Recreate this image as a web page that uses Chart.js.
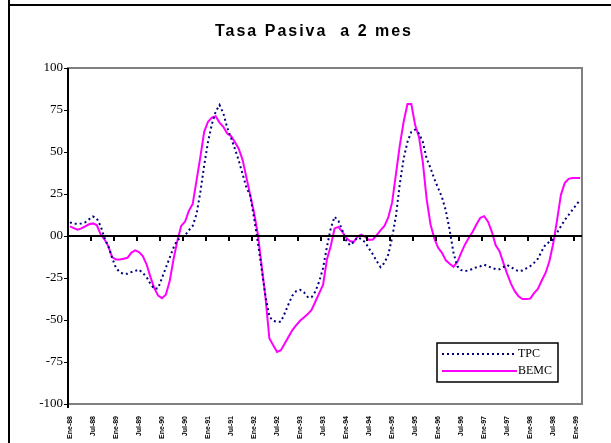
<!DOCTYPE html>
<html>
<head>
<meta charset="utf-8">
<script src="https://cdn.jsdelivr.net/npm/chart.js@4"></script>
<style>
  html, body { margin: 0; padding: 0; background: #fff; }
  canvas { display: block; }
</style>
</head>
<body>
<canvas id="chart" width="611" height="443"></canvas>
<script>
// Month / year parts of the category labels (monthly, Ene-88 .. Feb-99)
const months = ['Ene','Feb','Mar','Abr','May','Jun','Jul','Ago','Sep','Oct','Nov','Dic'];
const years = ['88','89','90','91','92','93','94','95','96','97','98','99'];
const nPoints = 134;

// Y ticks and the labels as they appear on the chart
const yTicks = [-100, -75, -50, -25, 0, 25, 50, 75, 100];
const yTickLabels = ['-100', '-75', '-50', '-25', '00', '25', '50', '75', '100'];

const titleText = 'Tasa Pasiva  a 2 mes';

const tpc = [
  8.1, 7.3, 7.2, 7.5, 8.2, 10, 11.6, 10.5, 6, -1, -6, -13,
  -19, -21.5, -22.6, -22.5, -21.5, -20.8, -20, -22, -24.5, -28.5, -31.5, -31,
  -25, -19, -13, -7, -2.3, -1.2, 0.3, 3.4, 6, 13, 26, 42,
  56, 66.5, 74, 78, 73, 64.5, 58.5, 52, 45, 37, 29, 24,
  11, -4, -20, -36, -48, -50.5, -51, -51, -46, -40.5, -35.5, -32.8,
  -32, -33.5, -36.3, -36.5, -33, -27, -19, -6.5, 4.5, 11.5, 9, 3.5,
  -2.5, -5.5, -3.5, -0.8, -1.8, -3.8, -7.5, -11, -15, -18.5, -16, -11,
  -1, 12, 31, 46, 56, 62, 63.3, 61, 56, 46, 40.5, 34,
  28.5, 23, 15, 3.5, -10, -18, -20.3, -20.8, -20.5, -19.5, -18.6, -18,
  -17.1, -18, -19, -19.7, -19.8, -18.5, -17.3, -18.5, -20, -21, -20.5, -19.2,
  -18, -16, -13.5, -9, -5, -3.5, -2, 2, 5.8, 9.5, 12.5, 15.5,
  18.5, 21.5
];

const bemc = [
  5.7, 4.7, 3.8, 4.5, 5.8, 7, 7.5, 6.5, 1, -2, -6, -12.5,
  -14, -14, -13.5, -13, -10, -8.5, -9.5, -12, -17, -24.5, -31, -35.5,
  -37, -35, -27, -14, -3, 6, 8.5, 15, 19, 33, 47, 62,
  68, 70.5, 71.3, 67.5, 65, 61, 59.5, 56, 52, 45.5, 35, 24.5,
  14, 1, -18, -37, -61, -65, -69, -68, -64, -60, -56, -53,
  -50.5, -48.5, -46.5, -44, -39, -34, -29, -14, -6, 4.5, 5.4, 2.5,
  -1, -3, -3.5, -0.3, 0.8, -0.6, -2.4, -2.1, 0.5, 3.5, 6, 11,
  20, 37, 54, 68, 78.6, 78.6, 66, 59, 44, 22, 7, -1.5,
  -7, -10, -14.5, -16.5, -18.3, -15.5, -10, -5, -1, 2.5, 7, 10.8,
  11.8, 8.5, 2.5, -5.5, -9, -16, -22.5, -28.5, -33, -36, -37.5, -37.5,
  -37.3, -34, -31.5, -26.5, -22, -15, -4.5, 9.5, 24.5, 31.5, 34, 34.5,
  34.5, 34.5
];

const labels = [];
for (let i = 0; i < nPoints; i++) {
  labels.push(months[i % 12] + '-' + years[Math.floor(i / 12)]);
}

// frame, title, plot border, zero axis with ticks, legend box
const decor = {
  id: 'decor',
  beforeDraw(chart) {
    const ctx = chart.ctx;
    ctx.save();
    ctx.fillStyle = '#000';
    ctx.fillRect(8, 0, 2, 443);
    ctx.fillRect(8, 4, 603, 2);
    ctx.font = 'bold 16px "Liberation Sans", Arial';
    ctx.letterSpacing = '2px';
    ctx.textAlign = 'center';
    ctx.textBaseline = 'middle';
    ctx.fillText(titleText, 314, 32);
    ctx.restore();
  },
  beforeDatasetsDraw(chart) {
    const { ctx, chartArea: a } = chart;
    ctx.save();
    ctx.strokeStyle = '#808080';
    ctx.lineWidth = 2;
    ctx.strokeRect(a.left, a.top, a.right - a.left, a.bottom - a.top);
    ctx.restore();
  },
  afterDatasetsDraw(chart) {
    const { ctx, chartArea: a, scales: { x, y } } = chart;
    const y0 = y.getPixelForValue(0);
    const slot = (a.right - a.left) / nPoints;
    ctx.save();
    ctx.strokeStyle = '#000';
    ctx.lineWidth = 2;
    ctx.beginPath();
    ctx.moveTo(a.left, y0);
    ctx.lineTo(a.right, y0);
    ctx.stroke();
    for (let i = 6; i < nPoints; i += 6) {
      const px = Math.round(x.getPixelForValue(i) - slot / 2);
      ctx.beginPath();
      ctx.moveTo(px, y0);
      ctx.lineTo(px, y0 + 5);
      ctx.stroke();
    }
    // y axis line
    ctx.beginPath();
    ctx.moveTo(a.left, a.top);
    ctx.lineTo(a.left, a.bottom + 4);
    ctx.stroke();

    // legend
    const bx = 437, by = 343, bw = 121, bh = 39;
    ctx.fillStyle = '#fff';
    ctx.fillRect(bx, by, bw, bh);
    ctx.lineWidth = 1.5;
    ctx.strokeRect(bx, by, bw, bh);
    ctx.font = '12px "Liberation Serif"';
    ctx.textBaseline = 'middle';
    chart.data.datasets.forEach((ds, k) => {
      const ly = by + 11 + k * 17;
      ctx.strokeStyle = ds.borderColor;
      ctx.lineWidth = ds.borderWidth;
      ctx.setLineDash(ds.borderDash || []);
      ctx.beginPath();
      ctx.moveTo(bx + 5, ly);
      ctx.lineTo(bx + 80, ly);
      ctx.stroke();
      ctx.setLineDash([]);
      ctx.fillStyle = '#000';
      ctx.fillText(ds.label, bx + 81, ly);
    });
    ctx.restore();
  }
};

new Chart(document.getElementById('chart'), {
  type: 'line',
  data: {
    labels: labels,
    datasets: [
      {
        label: 'TPC',
        data: tpc,
        borderColor: '#000080',
        borderWidth: 2,
        borderDash: [2, 3],
        pointRadius: 0,
        tension: 0
      },
      {
        label: 'BEMC',
        data: bemc,
        borderColor: '#ff00ff',
        borderWidth: 2,
        pointRadius: 0,
        tension: 0
      }
    ]
  },
  options: {
    responsive: false,
    animation: false,
    devicePixelRatio: 1,
    layout: { padding: { left: 8, right: 29, top: 68, bottom: 0 } },
    plugins: {
      legend: { display: false },
      tooltip: { enabled: false },
      title: { display: false }
    },
    scales: {
      x: {
        type: 'category',
        offset: true,
        grid: { display: false },
        border: { display: false },
        afterFit(scale) { scale.height = 39; },
        ticks: {
          autoSkip: false,
          minRotation: 90,
          maxRotation: 90,
          padding: 4,
          color: '#000',
          font: { family: '"Liberation Sans", Arial', size: 7, weight: 'bold' },
          callback: (v, i) => (i % 6 === 0 ? labels[i] : '')
        }
      },
      y: {
        min: -100,
        max: 100,
        afterFit(scale) { scale.width = 60; },
        afterBuildTicks(scale) { scale.ticks = yTicks.map(v => ({ value: v })); },
        grid: {
          drawOnChartArea: false,
          drawTicks: true,
          tickLength: 4,
          color: '#000',
          lineWidth: 1
        },
        border: { display: false },
        ticks: {
          padding: 1,
          color: '#000',
          font: { family: '"Liberation Serif", "Times New Roman"', size: 13 },
          callback: v => yTickLabels[yTicks.indexOf(v)]
        }
      }
    }
  },
  plugins: [decor]
});
</script>
</body>
</html>
